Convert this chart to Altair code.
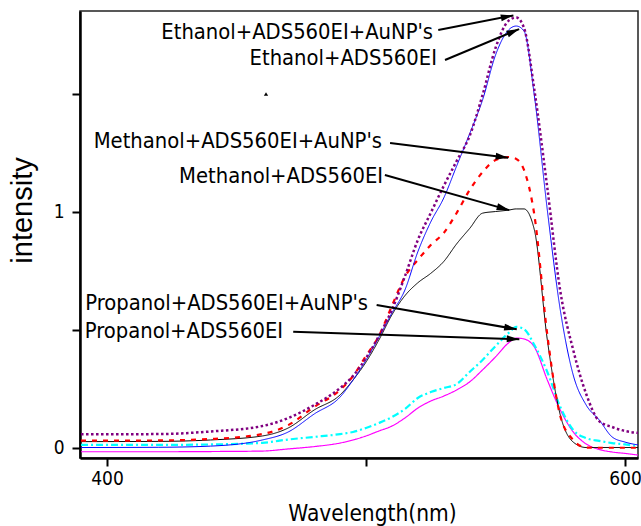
import math
import altair as alt
import pandas as pd

# ---------------- data ----------------
wavelength = [390, 420, 440, 460, 470, 480, 490, 495, 500, 505, 510, 515, 520, 525, 530,
              535, 540, 545, 550, 555, 558, 561, 565, 570, 575, 580, 585, 590, 595, 600, 605]

ethanol_aunp = [0.058, 0.059, 0.070, 0.093, 0.127, 0.182, 0.254, 0.305, 0.381, 0.475, 0.585,
                0.727, 0.881, 0.996, 1.110, 1.216, 1.322, 1.496, 1.695, 1.810, 1.824, 1.780,
                1.517, 1.102, 0.665, 0.415, 0.229, 0.114, 0.089, 0.072, 0.064]
ethanol = [0.002, 0.003, 0.008, 0.034, 0.068, 0.144, 0.216, 0.288, 0.373, 0.470, 0.572,
           0.669, 0.831, 0.958, 1.059, 1.195, 1.331, 1.475, 1.665, 1.771, 1.788, 1.767,
           1.492, 1.008, 0.585, 0.309, 0.182, 0.119, 0.047, 0.025, 0.013]
methanol_aunp = [0.031, 0.032, 0.038, 0.059, 0.097, 0.174, 0.246, 0.305, 0.390, 0.475, 0.602,
                 0.725, 0.797, 0.860, 0.911, 0.996, 1.093, 1.169, 1.220, 1.233, 1.225, 1.178,
                 0.987, 0.479, 0.136, 0.034, 0.002, 0.001, 0.001, 0.001, 0.001]
methanol = [0.027, 0.028, 0.034, 0.051, 0.085, 0.161, 0.225, 0.288, 0.364, 0.458, 0.564,
            0.645, 0.700, 0.740, 0.790, 0.865, 0.930, 0.995, 1.002, 1.008, 1.013, 1.013,
            0.924, 0.458, 0.140, 0.025, 0.002, 0.002, 0.002, 0.002, 0.002]
propanol_aunp = [0.013, 0.013, 0.015, 0.022, 0.036, 0.047, 0.059, 0.068, 0.085, 0.106, 0.131,
                 0.165, 0.212, 0.237, 0.254, 0.271, 0.322, 0.373, 0.432, 0.487, 0.513, 0.504,
                 0.436, 0.322, 0.174, 0.076, 0.042, 0.030, 0.021, 0.015, 0.008]
propanol = [-0.016, -0.016, -0.015, -0.013, -0.004, 0.006, 0.021, 0.034, 0.051, 0.072, 0.093,
            0.127, 0.169, 0.199, 0.220, 0.246, 0.280, 0.331, 0.386, 0.445, 0.466, 0.462,
            0.428, 0.288, 0.161, 0.068, 0.017, -0.006, -0.017, -0.023, -0.030]

series_names = ["Ethanol+ADS560EI+AuNP's", "Ethanol+ADS560EI",
                "Methanol+ADS560EI+AuNP's", "Methanol+ADS560EI",
                "Propanol+ADS560EI+AuNP's", "Propanol+ADS560EI"]
series_values = [ethanol_aunp, ethanol, methanol_aunp, methanol, propanol_aunp, propanol]

# annotation anchors (data coordinates)
label_x = [525.9, 527.4, 506.2, 506.6, 500.8, 468.0]
label_y = [1.733, 1.623, 1.271, 1.123, 0.585, 0.466]
arrow_x1 = [527.9, 530.5, 509.3, 507.3, 504.1, 471.9]
arrow_y1 = [1.771, 1.644, 1.292, 1.157, 0.606, 0.493]
arrow_x2 = [556.9, 559.1, 554.9, 555.3, 558.2, 559.2]
arrow_y2 = [1.833, 1.775, 1.230, 1.008, 0.503, 0.461]

marker_x = [461.4]
marker_y = [1.5]

# ---------------- styles ----------------
series_colors = ["#800080", "#0000ff", "#ff0000", "#000000", "#00ffff", "#ff00ff"]
series_dash = [[2.5, 2.5], [1, 0], [5, 6], [1, 0], [7, 3, 2, 3], [1, 0]]
series_width = [2.5, 1.0, 2.2, 1.0, 2.2, 1.2]
draw_order = [5, 4, 3, 2, 1, 0]

W, H = 558, 447
X_DOM = [389.6, 605.0]
Y_DOM = [-0.0424, 1.8517]
NARROW = "Noto Sans Condensed, DejaVu Sans Condensed"

xscale = alt.Scale(domain=X_DOM, nice=False, zero=False)
yscale = alt.Scale(domain=Y_DOM, nice=False, zero=False)

x_axis = alt.Axis(values=[400, 500, 600], labelExpr="datum.value == 500 ? '' : datum.label",
                  title="Wavelength(nm)", grid=False, tickSize=8, tickWidth=2,
                  labelFont=NARROW, labelFontSize=19, labelPadding=3, labelColor="black",
                  titleFont=NARROW, titleFontSize=22.5, titleFontWeight="normal",
                  titleX=292, titleY=62, titleAlign="center", titleBaseline="alphabetic",
                  titleColor="black", domainColor="black", domainWidth=2.5, tickColor="black")
y_axis = alt.Axis(values=[0, 0.5, 1, 1.5],
                  labelExpr="(datum.value == 0 || datum.value == 1) ? format(datum.value, 'd') : ''",
                  title="intensity", grid=False, tickSize=8, tickWidth=2,
                  labelFont=NARROW, labelFontSize=19, labelPadding=8, labelColor="black",
                  titleFont="Liberation Sans", titleFontSize=29,
                  titleFontWeight="normal", titleX=-58, titleY=199, titleAngle=270,
                  titleAlign="center", titleBaseline="middle", titleColor="black",
                  domainColor="black", domainWidth=2.5, tickColor="black")


def X(field):
    return alt.X(field, scale=xscale, axis=x_axis)


def Y(field):
    return alt.Y(field, scale=yscale, axis=y_axis)


layers = []
for i in draw_order:
    df = pd.DataFrame({"wavelength": wavelength, "value": series_values[i],
                       "series": series_names[i]})
    ch = alt.Chart(df).mark_line(
        color=series_colors[i], strokeDash=series_dash[i], strokeWidth=series_width[i],
        interpolate="monotone", clip=True
    ).encode(x=X("wavelength:Q"), y=Y("value:Q"), detail="series:N")
    layers.append(ch)

# arrows
px_per_x = W / (X_DOM[1] - X_DOM[0])
px_per_y = H / (Y_DOM[1] - Y_DOM[0])
angles = []
for a, b, c, d in zip(arrow_x1, arrow_y1, arrow_x2, arrow_y2):
    dx = (c - a) * px_per_x
    dy = -(d - b) * px_per_y
    angles.append(math.degrees(math.atan2(dx, -dy)) % 360)

arrows = pd.DataFrame({"x1": arrow_x1, "y1": arrow_y1, "x2": arrow_x2, "y2": arrow_y2,
                       "angle": angles, "label": series_names,
                       "lx": label_x, "ly": label_y})

rules = alt.Chart(arrows).mark_rule(color="black", strokeWidth=2).encode(
    x=X("x1:Q"), y=Y("y1:Q"), x2="x2:Q", y2="y2:Q")
heads = alt.Chart(arrows).mark_point(
    shape="M0,0L0.5,1.8L-0.5,1.8Z", filled=True, color="black", opacity=1, size=196
).encode(x=X("x2:Q"), y=Y("y2:Q"), angle=alt.Angle("angle:Q", scale=None))
texts = alt.Chart(arrows).mark_text(
    align="right", baseline="alphabetic", font=NARROW, fontSize=21.8, color="black"
).encode(x=X("lx:Q"), y=Y("ly:Q"), text="label:N")

mk = pd.DataFrame({"x": marker_x, "y": marker_y})
marker = alt.Chart(mk).mark_point(shape="triangle-up", filled=True, color="black",
                                  opacity=1, size=18).encode(x=X("x:Q"), y=Y("y:Q"))

chart = alt.layer(*layers, rules, heads, texts, marker).properties(
    width=W, height=H,
    background="white",
    autosize=alt.AutoSizeParams(type="none"),
    padding={"left": 80, "top": 11, "right": 3, "bottom": 68},
).configure_view(stroke="#222222", strokeWidth=1.5)

chart.save("out.html", embed_options={"renderer": "svg", "actions": False})
